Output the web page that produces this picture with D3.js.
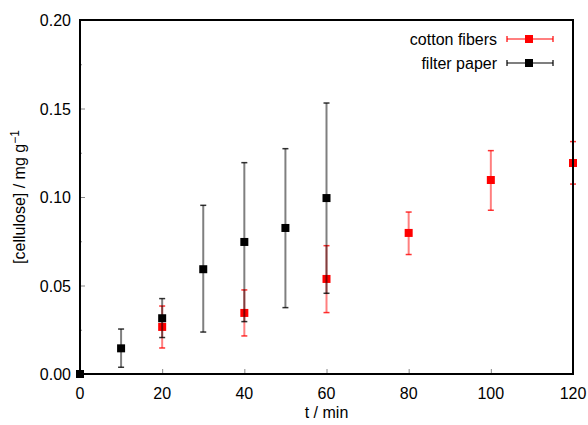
<!DOCTYPE html>
<html lang="en">
<head>
    <meta charset="UTF-8">
    <style>
        body {
            margin: 0;
            padding: 0;
            background-color: #fff;
            overflow: hidden;
        }

        #chart {
            display: block;
        }

        text {
            font-family: "Liberation Sans", Arial, sans-serif;
            font-size: 16px;
            fill: #000;
        }
    </style>
</head>
<body>
    <svg id="chart"></svg>

    <script src="https://d3js.org/d3.v7.min.js"></script>
    <script>
        const width = 588;
        const height = 425;
        const margin = { top: 20, right: 15, bottom: 51, left: 80 };

        // cotton fibers
        const cottonTime = [0, 20, 40, 60, 80, 100, 120];
        const cottonValue = [0, 0.0266, 0.0345, 0.0537, 0.0797, 0.1096, 0.1192];
        const cottonLow = [0, 0.0147, 0.0215, 0.0347, 0.0675, 0.0925, 0.1073];
        const cottonHigh = [0, 0.0384, 0.0475, 0.0725, 0.0915, 0.1262, 0.1313];

        // filter paper
        const paperTime = [0, 10, 20, 30, 40, 50, 60];
        const paperValue = [0, 0.0145, 0.0315, 0.0592, 0.0746, 0.0825, 0.0994];
        const paperLow = [0, 0.0038, 0.0206, 0.0237, 0.0296, 0.0375, 0.0456];
        const paperHigh = [0, 0.0254, 0.0426, 0.0953, 0.1194, 0.1273, 0.1531];

        const xTicks = [0, 20, 40, 60, 80, 100, 120];
        const yTicks = [0, 0.05, 0.10, 0.15, 0.20];
        const yMinorTicks = [0.025, 0.075, 0.125, 0.175];

        const svg = d3.select("#chart")
            .attr("width", width)
            .attr("height", height);

        const x = d3.scaleLinear()
            .domain([0, 120])
            .range([margin.left, width - margin.right]);

        const y = d3.scaleLinear()
            .domain([0, 0.20])
            .range([height - margin.bottom, margin.top]);

        // ticks (inward, gray)
        svg.append("g")
            .attr("transform", `translate(0,${height - margin.bottom})`)
            .call(d3.axisBottom(x).tickValues(xTicks).tickSize(-5).tickFormat(""))
            .call(g => g.select(".domain").remove())
            .call(g => g.selectAll("line").attr("stroke", "#888").attr("stroke-width", 1));

        svg.append("g")
            .attr("transform", `translate(${margin.left},0)`)
            .call(d3.axisLeft(y).tickValues(yTicks).tickSize(-5).tickFormat(""))
            .call(g => g.select(".domain").remove())
            .call(g => g.selectAll("line").attr("stroke", "#888").attr("stroke-width", 1));

        svg.append("g")
            .attr("transform", `translate(${margin.left},0)`)
            .call(d3.axisLeft(y).tickValues(yMinorTicks).tickSize(-2).tickFormat(""))
            .call(g => g.select(".domain").remove())
            .call(g => g.selectAll("line").attr("stroke", "#888").attr("stroke-width", 1));

        // tick labels
        svg.append("g")
            .selectAll("text")
            .data(xTicks)
            .enter().append("text")
            .attr("x", d => x(d))
            .attr("y", height - margin.bottom + 25)
            .attr("text-anchor", "middle")
            .text(d => d);

        svg.append("g")
            .selectAll("text")
            .data(yTicks)
            .enter().append("text")
            .attr("x", margin.left - 9)
            .attr("y", d => y(d) + 6)
            .attr("text-anchor", "end")
            .text(d => d3.format(".2f")(d));

        // axis titles
        svg.append("text")
            .attr("x", (x(0) + x(120)) / 2)
            .attr("y", height - 7)
            .attr("text-anchor", "middle")
            .text("t / min");

        const yTitle = svg.append("text")
            .attr("transform", `translate(25,${(y(0) + y(0.2)) / 2}) rotate(-90)`)
            .attr("text-anchor", "middle");
        yTitle.append("tspan").text("[cellulose] / mg g");
        yTitle.append("tspan").attr("dy", -6).attr("font-size", "12px").text("−1");

        function drawSeries(times, values, lows, highs, color, barColor) {
            const g = svg.append("g");
            const rows = times.map((t, i) => ({ t, v: values[i], lo: lows[i], hi: highs[i] }));
            const bars = rows.filter(d => d.hi > d.lo);

            g.selectAll(".bar")
                .data(bars)
                .enter().append("line")
                .attr("x1", d => x(d.t))
                .attr("x2", d => x(d.t))
                .attr("y1", d => y(d.lo))
                .attr("y2", d => y(d.hi))
                .attr("stroke", barColor)
                .attr("stroke-opacity", 0.5)
                .attr("stroke-width", 2);

            ["lo", "hi"].forEach(k => {
                g.selectAll(".cap-" + k)
                    .data(bars)
                    .enter().append("line")
                    .attr("x1", d => x(d.t) - 3)
                    .attr("x2", d => x(d.t) + 3)
                    .attr("y1", d => y(d[k]))
                    .attr("y2", d => y(d[k]))
                    .attr("stroke", barColor)
                    .attr("stroke-opacity", 0.8)
                    .attr("stroke-width", 1.5);
            });

            g.selectAll("rect")
                .data(rows)
                .enter().append("rect")
                .attr("x", d => x(d.t) - 4)
                .attr("y", d => y(d.v) - 4)
                .attr("width", 8)
                .attr("height", 8)
                .attr("fill", color);
        }

        drawSeries(cottonTime, cottonValue, cottonLow, cottonHigh, "#ff0000", "#ff0000");

        // border
        svg.append("rect")
            .attr("x", x(0))
            .attr("y", y(0.2))
            .attr("width", x(120) - x(0))
            .attr("height", y(0) - y(0.2))
            .attr("fill", "none")
            .attr("stroke", "#000")
            .attr("stroke-width", 2);

        drawSeries(paperTime, paperValue, paperLow, paperHigh, "#000", "#000");

        // legend
        const legend = [
            { name: "cotton fibers", color: "#ff0000" },
            { name: "filter paper", color: "#000" }
        ];
        const lg = svg.append("g");
        legend.forEach((d, i) => {
            const ly = 39 + i * 24;
            lg.append("text")
                .attr("x", 497)
                .attr("y", ly + 6)
                .attr("text-anchor", "end")
                .text(d.name);
            lg.append("line")
                .attr("x1", 507).attr("x2", 553)
                .attr("y1", ly).attr("y2", ly)
                .attr("stroke", d.color).attr("stroke-opacity", 0.5).attr("stroke-width", 2);
            [507, 553].forEach(cx => {
                lg.append("line")
                    .attr("x1", cx).attr("x2", cx)
                    .attr("y1", ly - 3).attr("y2", ly + 3)
                    .attr("stroke", d.color).attr("stroke-opacity", 0.8).attr("stroke-width", 1.5);
            });
            lg.append("rect")
                .attr("x", 525).attr("y", ly - 4)
                .attr("width", 8).attr("height", 8)
                .attr("fill", d.color);
        });
    </script>
</body>
</html>
